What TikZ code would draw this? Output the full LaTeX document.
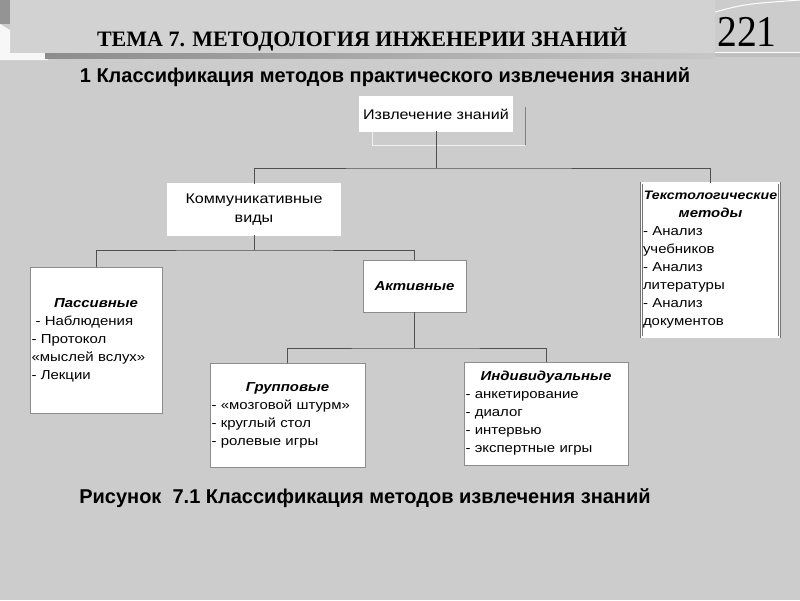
\documentclass[tikz,border=0pt]{standalone}
\usepackage{fontspec}
\setmainfont{Liberation Sans}
\newfontfamily\ttlfont{Liberation Serif}
\newfontfamily\numfont[FakeStretch=0.9]{Liberation Serif}
\newfontfamily\bxfont[FakeStretch=1.15]{Liberation Sans}
\usetikzlibrary{shadows}
\definecolor{bgc}{HTML}{CCCCCC}
\definecolor{pnl}{HTML}{D2D2D2}
\definecolor{lnc}{HTML}{505050}
\newcommand{\bxhd}[1]{\makebox[\hsize]{\bfseries\itshape #1}}

\begin{document}
\begin{tikzpicture}[x=1pt,y=-1pt,
  every node/.style={font=\bxfont\fontsize{13}{18}\selectfont},
  frm/.style={draw=black!55,line width=0.6pt,double=white,double distance=1.2pt,fill=white,inner sep=1.5pt},
  shb/.style={draw=black!45,line width=0.5pt,fill=white,inner sep=1.5pt,
    general shadow={fill=black!65,shadow xshift=1.3pt,shadow yshift=-1.3pt}},
  cn/.style={lnc,line width=0.8pt}]
  \useasboundingbox (0,0) rectangle (800,600);
  % slide background and header
  \fill[bgc] (0,0) rectangle (800,600);
  \fill[pnl] (10,0) rectangle (715,53);
  \fill[black!42] (0,0) rectangle (10,24);
  \fill[white!85!bgc] (0,24) -- (10,30) -- (10,53) -- (45,53) -- (48,60) -- (0,60) -- cycle;
  \shade[left color=black!45,right color=black!22] (45,53) rectangle (715,58);
  \fill[black!20] (715,0) rectangle (800,52);
  \fill[black!25] (715,52) rectangle (800,57);
  \draw[white,line width=1pt] (715,52) -- (800,52);
  \draw[white,line width=1pt] (715,12) .. controls (745,4) .. (800,0);
  \node[anchor=base,font=\ttlfont\bfseries\fontsize{22}{26}\selectfont] (ttl) at (362,46) {ТЕМА 7. МЕТОДОЛОГИЯ ИНЖЕНЕРИИ ЗНАНИЙ};
  \node[anchor=base,font=\numfont\fontsize{44}{48}\selectfont] (num) at (747,46) {221};
  \node[anchor=base,font=\bfseries\fontsize{20}{24}\selectfont] (sub) at (385,82) {1 Классификация методов практического извлечения знаний};

  % tree
  \draw[black!50,line width=0.6pt] (525,107) -- (525,145);
  \draw[white!70!bgc,line width=0.6pt] (372,131) -- (372,145) -- (525,145);
  \node[frm,minimum width=152pt,minimum height=34pt,font=\bxfont\fontsize{14}{19}\selectfont] (izv) at (436,114) {Извлечение знаний};
  \node[frm,minimum width=172pt,minimum height=51pt,align=center,font=\bxfont\fontsize{14}{19}\selectfont] (kom) at (254,209.5) {Коммуникативные\\виды};
  \node[frm,text width=135pt,minimum height=154pt,align=left] (tex) at (710.5,260)
    {\bxhd{\fontsize{12.3}{18}\selectfont Текстологические}\\\bxhd{методы}\\- Анализ\\учебников\\- Анализ\\литературы\\- Анализ\\документов};
  \node[shb,text width=129pt,minimum height=146pt,align=left] (pas) at (96,340)
    {\bxhd{Пассивные}\\\hspace*{4pt}- Наблюдения\\- Протокол\\«мыслей вслух»\\- Лекции};
  \node[shb,minimum width=103pt,minimum height=52pt] (akt) at (414.5,286) {\bfseries\itshape Активные};
  \node[shb,text width=152pt,minimum height=104pt,align=left] (grp) at (287.5,415)
    {\bxhd{Групповые}\\- «мозговой штурм»\\- круглый стол\\- ролевые игры};
  \node[shb,text width=161pt,minimum height=103pt,align=left] (ind) at (546,413.5)
    {\bxhd{Индивидуальные}\\- анкетирование\\- диалог\\- интервью\\- экспертные игры};
  \coordinate (j1) at (436,168);
  \coordinate (j2) at (254,250);
  \coordinate (j3) at (414.5,348);
  \draw[cn] (izv.south) -- (j1);
  \draw[cn] (kom.north) |- (j1) -| (tex.north);
  \draw[cn] (kom.south) -- (j2);
  \draw[cn] (pas.north) |- (j2) -| (akt.north);
  \draw[cn] (akt.south) -- (j3);
  \draw[cn] (grp.north) |- (j3) -| (ind.north);

  \node[anchor=base,font=\bfseries\fontsize{20}{24}\selectfont] (cap) at (365,503) {Рисунок\ \ 7.1 Классификация методов извлечения знаний};
\end{tikzpicture}
\end{document}
